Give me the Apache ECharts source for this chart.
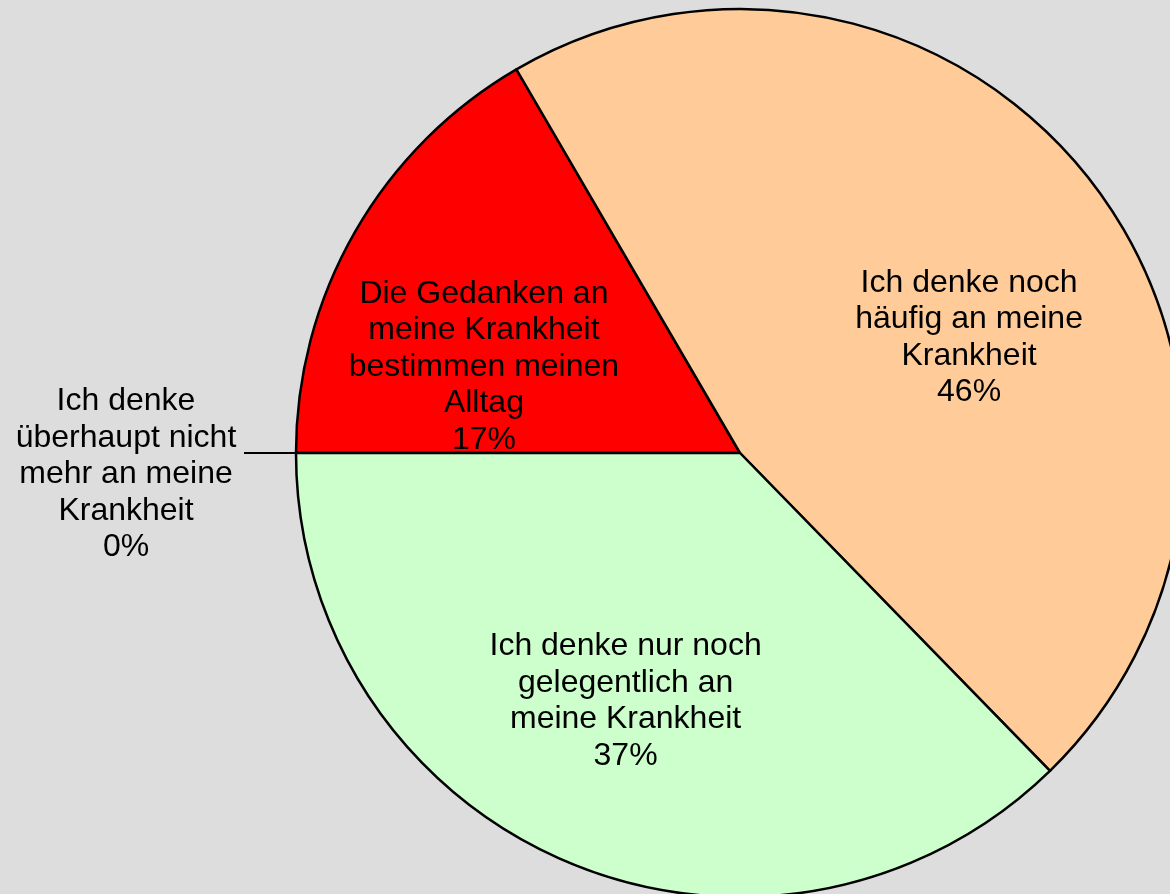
<!DOCTYPE html>
<html>
<head>
<meta charset="utf-8">
<script src="https://cdn.jsdelivr.net/npm/echarts@6/dist/echarts.min.js"></script>
<style>
html,body{margin:0;padding:0;background:#DDDDDD;}
#chart{width:1170px;height:894px;}
</style>
</head>
<body>
<div id="chart"></div>
<script>
// Data (percent of answers)
const categories = [
  'Ich denke\nüberhaupt nicht\nmehr an meine\nKrankheit',
  'Die Gedanken an\nmeine Krankheit\nbestimmen meinen\nAlltag',
  'Ich denke noch\nhäufig an meine\nKrankheit',
  'Ich denke nur noch\ngelegentlich an\nmeine Krankheit'
];
const values = [0, 16.6, 46.1, 37.3];
const colors = ['#CCFFCC', '#FF0000', '#FFCC99', '#CCFFCC'];

const FONT = '"Liberation Sans", Arial, sans-serif';
const FS = 32, LH = 36.5;
// label nudges: [horizontal padding right, left], vertical spacer height
const hPads = [null, [0, 122, 0, 0], [0, 0, 0, 100], [0, 54, 0, 0]];
const spacers = [0, 52, 42, 82];

function richLabel(p, spacer) {
  const lines = p.name.split('\n').concat([Math.round(p.percent) + '%']);
  let s = lines.map(l => '{a|' + l + '}').join('\n');
  if (spacer) s = '{s| }\n' + s;
  return s;
}

const data = categories.map((name, i) => {
  const item = { name: name, value: values[i], itemStyle: { color: colors[i] } };
  if (i === 0) {
    item.label = {
      position: 'outside',
      formatter: p => richLabel(p, 0),
      padding: [43, 0, 0, 0],
      rich: { a: { width: 226, align: 'center', fontSize: FS, lineHeight: LH, fontFamily: FONT, color: '#000' } }
    };
    item.labelLine = { show: true, length: 45, length2: 7, lineStyle: { color: '#000', width: 2 } };
  } else {
    const sp = spacers[i];
    item.label = {
      position: 'inside',
      padding: hPads[i],
      formatter: p => richLabel(p, sp),
      rich: {
        a: { align: 'center', fontSize: FS, lineHeight: LH, fontFamily: FONT, color: '#000' },
        s: { fontSize: 1, lineHeight: sp, height: sp }
      }
    };
    item.labelLine = { show: false };
  }
  return item;
});

const chart = echarts.init(document.getElementById('chart'), null, { renderer: 'canvas' });
chart.setOption({
  backgroundColor: '#DDDDDD',
  animation: false,
  series: [{
    type: 'pie',
    center: [740, 453],
    radius: 444,
    startAngle: 180,
    clockwise: true,
    avoidLabelOverlap: false,
    itemStyle: { borderColor: '#000', borderWidth: 2.5 },
    emphasis: { disabled: true },
    label: {
      show: true,
      color: '#000',
      fontSize: FS,
      lineHeight: LH,
      fontFamily: FONT,
      align: 'center'
    },
    data: data
  }]
});
</script>
</body>
</html>
